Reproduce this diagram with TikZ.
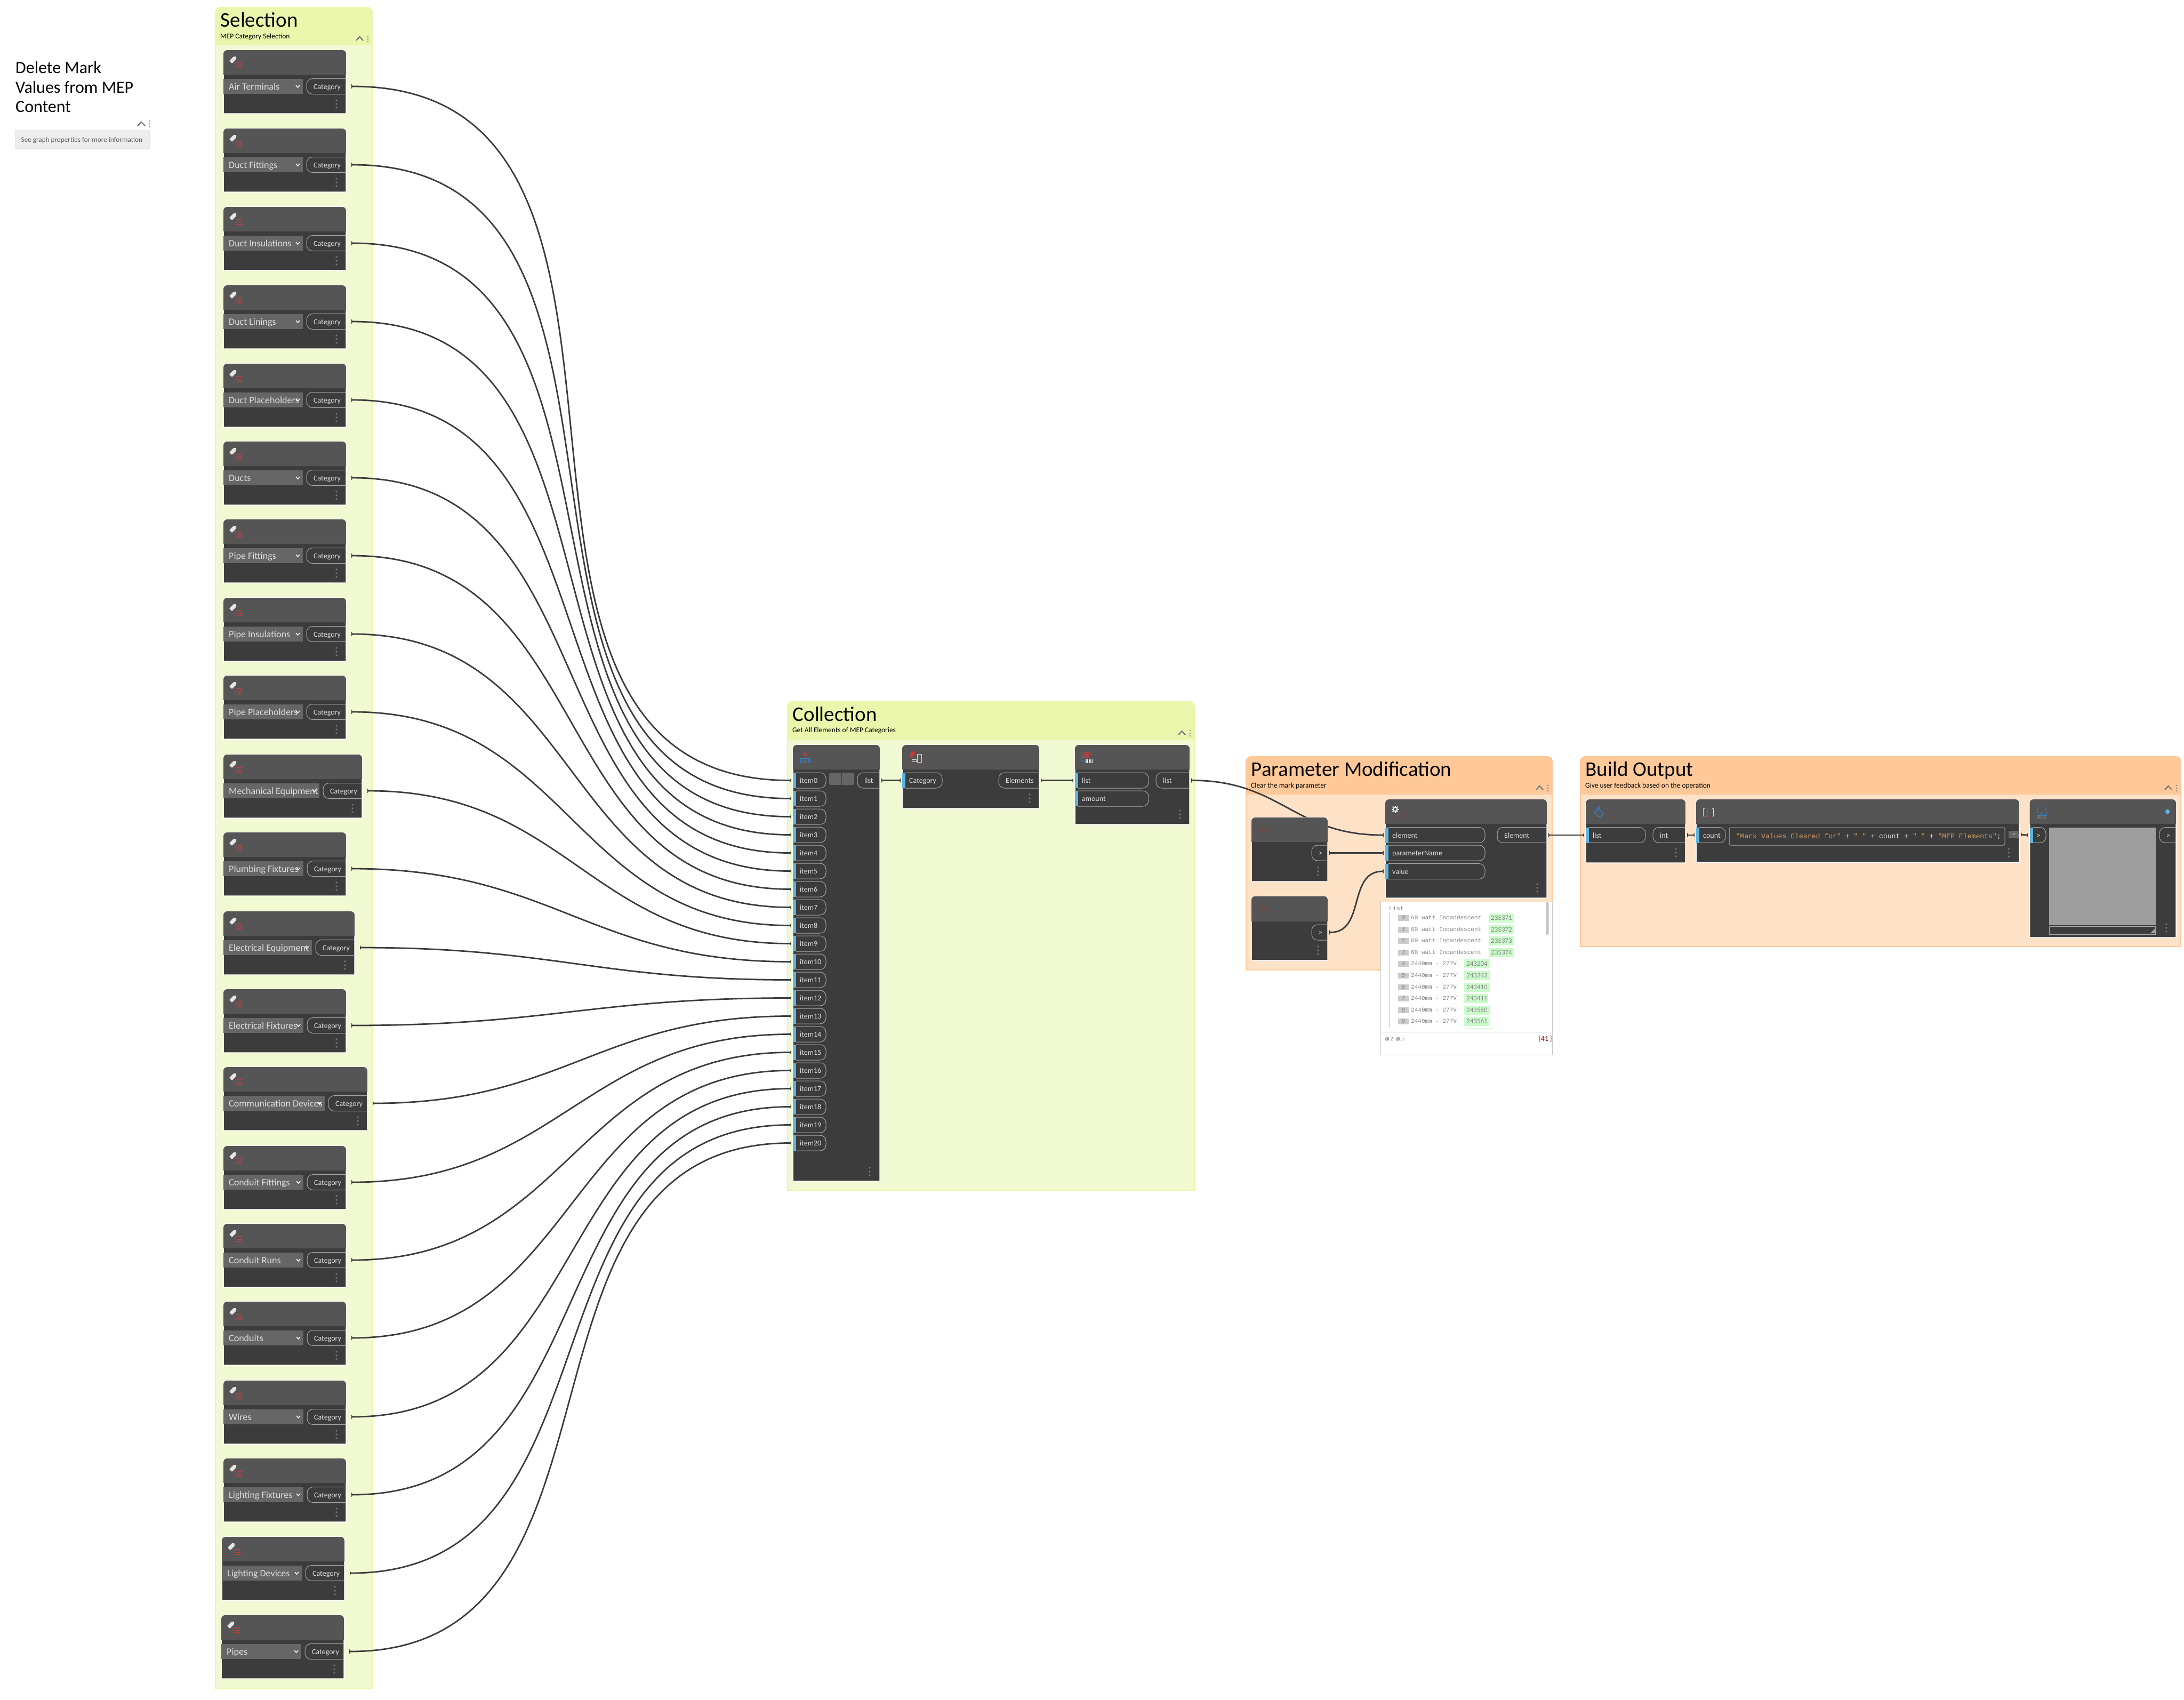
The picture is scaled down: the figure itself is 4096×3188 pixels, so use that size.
\documentclass[tikz,border=0pt]{standalone}
\usepackage{fontspec}
\setmainfont{Carlito}
\newfontfamily\dynmono{Liberation Mono}
\usetikzlibrary{calc,arrows.meta}
\pgfdeclarelayer{bg}\pgfdeclarelayer{wires}\pgfsetlayers{bg,wires,main}
\definecolor{selh}{HTML}{E9F6AB}\definecolor{selb}{HTML}{F1F9D3}
\definecolor{orah}{HTML}{FFC898}\definecolor{orab}{HTML}{FEE2C8}
\definecolor{nbody}{HTML}{3C3C3C}\definecolor{nhead}{HTML}{555555}
\definecolor{pline}{HTML}{A8A8A8}\definecolor{pblue}{HTML}{5CB6E3}
\definecolor{wirec}{HTML}{3C3C3C}\definecolor{ddn}{HTML}{666666}
\definecolor{txtl}{HTML}{DEDEDE}\definecolor{ired}{HTML}{C23B3B}
\definecolor{iblue}{HTML}{3F7FBF}\definecolor{dotc}{HTML}{787878}
\definecolor{strc}{HTML}{CE9B62}\definecolor{grn}{HTML}{CCFBCC}
\definecolor{wgrey}{HTML}{858585}\definecolor{abc}{HTML}{7E4444}
\newcommand\fpx[1]{\fontsize{#1}{#1}\selectfont}
\tikzset{
  wire/.style={draw=wirec,line width=2.8pt,{Triangle[reversed,length=2.5pt,width=8.5pt]}-{Triangle[reversed,length=2.5pt,width=8.5pt]},shorten <=3pt,shorten >=3pt},
  pill/.style={draw=pline,line width=1pt},
  portbox/.style={inner sep=0pt,minimum height=29pt},
  lbl/.style={inner sep=0pt,text=txtl,font=\fpx{14}},
  ddlbl/.style={inner sep=0pt,text=txtl,font=\fpx{18}},
  gtitle/.style={inner sep=0pt,text=black,font=\fpx{39}},
  gsub/.style={inner sep=0pt,text=black,font=\fpx{13.5}},
  wtxt/.style={inner sep=0pt,text=wgrey,font=\dynmono\fpx{11}},
  wnum/.style={inner sep=0pt,text=wgrey,font=\fpx{13}},
}
% node body
\newcommand\dynode[6]{%
  \path[fill=nbody,draw=white,line width=1.5pt] ({#2},{#3+#5}) [rounded corners=7pt] -- ({#2},{#3}) -- ({#2+#4},{#3}) [sharp corners] -- ({#2+#4},{#3+#5}) -- cycle;
  \path[fill=nhead] ({#2},{#3+#6}) [rounded corners=7pt] -- ({#2},{#3}) -- ({#2+#4},{#3}) [sharp corners] -- ({#2+#4},{#3+#6}) -- cycle;
  \node[inner sep=0pt,minimum width=#4pt,minimum height=#5pt,anchor=north west] (#1) at ({#2},{#3}) {};
}
\newcommand\dydots[2]{\foreach \dk in {0,7,14}{\fill[dotc] ({#1},{#2+\dk}) circle[radius=1.9pt];}}
\newcommand\inport[5]{%
  \fill[pblue] ({#2},{#4-14.5}) rectangle ({#2+6},{#4+14.5});
  \draw[pill,rounded corners=11pt] ({#2+6},{#4-14.5}) -- ({#3},{#4-14.5}) -- ({#3},{#4+14.5}) -- ({#2+6},{#4+14.5});
  \node[portbox,minimum width={(#3-#2)*1pt}] (#1) at ({(#2+#3)/2},{#4}) {};
  \node[lbl,anchor=base west] (#1-l) at ({#2+13},{#4+5}) {#5};
}
\newcommand\outport[5]{%
  \draw[pill,rounded corners=11pt] ({#3},{#4-14.5}) -- ({#2},{#4-14.5}) -- ({#2},{#4+14.5}) -- ({#3},{#4+14.5});
  \node[portbox,minimum width={(#3-#2)*1pt}] (#1) at ({(#2+#3)/2},{#4}) {};
  \node[lbl,anchor=base west] (#1-l) at ({#2+13},{#4+5}) {#5};
}
\newcommand\tagicon[2]{%
  \fill[white!90!black,rounded corners=1pt] ({#1+11},{#2+20}) -- ({#1+19},{#2+12}) -- ({#1+24},{#2+12}) -- ({#1+24},{#2+17}) -- ({#1+16},{#2+25}) -- cycle;
  \foreach \rk in {24,28.5,33}{%
    \fill[ired] ({#1+25},{#2+\rk-1}) rectangle ({#1+35},{#2+\rk+1});
    \fill[ired] ({#1+21},{#2+\rk-1}) rectangle ({#1+23},{#2+\rk+1});}
}
\newcommand\chevgrp[3]{%
  \draw[dotc,line width=2.2pt] ({#1-31},{#2-8}) -- ({#1-24.5},{#2-15}) -- ({#1-18},{#2-8});
  \foreach \dk in {-16,-11,-6}{\draw[dotc,line width=.5pt] ({#1-9},{#2+\dk}) circle[radius=1pt];}
}
\newcommand\dygroup[9]{% name x1 y1 x2 yh y2 hdr body title
  \begin{pgfonlayer}{bg}
  \path[fill=#8,draw=#7,line width=2pt] ({#2+1},{#5}) rectangle ({#4-1},{#6-1});
  \path[fill=#7] ({#2},{#5}) [rounded corners=10pt] -- ({#2},{#3}) -- ({#4},{#3}) [sharp corners] -- ({#4},{#5}) -- cycle;
  \end{pgfonlayer}
  \node[gtitle,anchor=base west] (#1) at ({#2+10.5},{#3+37}) {#9};
  \chevgrp{#4}{#5}{}
}
\newcommand\conn[2]{%
  \draw[wire] let \p1=(#1.east),\p2=(#2.west),\n1={veclen(\x2-\x1,\y2-\y1)*0.45} in (#1.east) .. controls ($(\p1)+(\n1,0)$) and ($(\p2)-(\n1,0)$) .. (#2.west);
}
\newcommand\wrow[7]{% yc idx text x1 x2 num name
  \fill[black!20] (2622,{#1-5.5}) rectangle (2642,{#1+5.5});
  \node[wtxt,font=\dynmono\itshape\fpx{11},anchor=center] (#7-i) at (2632,{#1}) {#2};
  \node[wtxt,anchor=base west] (#7-t) at (2646,{#1+3.5}) {#3};
  \fill[grn] ({#4},{#1-8.5}) rectangle ({#5},{#1+8.5});
  \node[wnum,anchor=base west] (#7-n) at ({#4+4},{#1+4}) {#6};
}
\begin{document}
\begin{tikzpicture}[x=1pt,y=-1pt]
\useasboundingbox (0,0) rectangle (4096,3188);
\begin{pgfonlayer}{bg}\fill[white] (0,0) rectangle (4096,3188);\end{pgfonlayer}

% ---- note
\node[inner sep=0pt,anchor=base west,font=\fpx{32},text=black] (n1) at (29,137) {Delete Mark};
\node[inner sep=0pt,anchor=base west,font=\fpx{32},text=black] (n2) at (29,174) {Values from MEP};
\node[inner sep=0pt,anchor=base west,font=\fpx{32},text=black] (n3) at (29,210) {Content};
\draw[dotc,line width=2.2pt] (258,236) -- (265,229) -- (272,236);
\foreach \dk in {-5,0,5}{\draw[dotc,line width=.5pt] (280.5,{232+\dk}) circle[radius=1pt];}
\fill[black!10,rounded corners=2pt] (28,243) rectangle (281.5,280);
\node[fill=black!7,inner sep=0pt,minimum width=251pt,minimum height=34pt,anchor=north west] (nbox) at (29,243) {};
\node[inner sep=0pt,anchor=base west,font=\fpx{13.2},text=black!65] (nt) at (39.5,266) {See graph properties for more information};

% ---- groups
\dygroup{gsel}{403}{13}{699}{84}{3168}{selh}{selb}{Selection}
\node[gsub,anchor=base west] (gsels) at (413,72) {MEP Category Selection};
\dygroup{gcol}{1476}{1315}{2241}{1386}{2233}{selh}{selb}{Collection}
\node[gsub,anchor=base west] (gcols) at (1486,1373) {Get All Elements of MEP Categories};
\dygroup{gpar}{2336}{1418}{2912}{1489}{1820}{orah}{orab}{Parameter Modification}
\node[gsub,anchor=base west] (gpars) at (2346,1477) {Clear the mark parameter};
\dygroup{gout}{2963}{1418}{4091}{1489}{1776}{orah}{orab}{Build Output}
\node[gsub,anchor=base west] (gouts) at (2973,1477) {Give user feedback based on the operation};

% ---- selection nodes
\foreach \i/\lab/\nx/\tp/\xr/\ddx in {
 0/Air Terminals/419/94/649/568,
 1/Duct Fittings/419/241/649/568,
 2/Duct Insulations/419/388/649/568,
 3/Duct Linings/419/535/649/568,
 4/Duct Placeholders/419/682/649/568,
 5/Ducts/419/828/649/568,
 6/Pipe Fittings/419/974/649/568,
 7/Pipe Insulations/419/1121/649/568,
 8/Pipe Placeholders/419/1267/649/568,
 9/Mechanical Equipment/419/1415/679/599,
 10/Plumbing Fixtures/419/1561/649/569,
 11/Electrical Equipment/419/1709/665/585,
 12/Electrical Fixtures/419/1855/649/569,
 13/Communication Devices/419/2001/689/609,
 14/Conduit Fittings/419/2149/649/569,
 15/Conduit Runs/419/2295/649/569,
 16/Conduits/419/2441/649/569,
 17/Wires/419/2589/649/569,
 18/Lighting Fixtures/419/2735/649/569,
 19/Lighting Devices/416/2882/646/566,
 20/Pipes/415/3029/645/565}{
  \pgfmathsetmacro\nw{\xr-\nx}
  \dynode{s\i}{\nx}{\tp}{\nw}{119}{46}
  \tagicon{\nx}{\tp}
  \pgfmathsetmacro\yc{\tp+68}
  \fill[ddn] (\nx,{\yc-14}) rectangle (\ddx,{\yc+14});
  \node[ddlbl,anchor=base west] (dd\i) at ({\nx+10},{\yc+6}) {\lab};
  \draw[white,line width=1.4pt] ({\ddx-13},{\yc-2}) -- ({\ddx-9.5},{\yc+2}) -- ({\ddx-6},{\yc-2});
  \outport{c\i}{\ddx+7}{\xr}{\yc}{Category}
  \dydots{\xr-18}{\tp+94}
}

% ---- list create
\dynode{lc}{1487}{1397}{163}{818}{46}
\fill[ired] (1508.5,1410) rectangle (1510.5,1420);
\fill[ired] (1505,1414) rectangle (1514,1416);
\draw[iblue,line width=1pt] (1501,1422) rectangle (1519,1430);
\foreach \gx in {1504,1507,1510,1513,1516}{\draw[iblue,line width=.8pt] (\gx,1422) -- (\gx,1430);}
\foreach \i in {0,...,20}{
  \pgfmathsetmacro\yc{1463.5+34*\i}
  \inport{in\i}{1487}{1549}{\yc}{item\i}
}
\fill[nhead!90!white,rounded corners=3pt] (1555,1449) rectangle (1602,1472);
\draw[nbody,line width=1pt] (1578.5,1449) -- (1578.5,1472);
\outport{lcout}{1608}{1650}{1463.5}{list}
\dydots{1631}{2190}

% ---- get all elements
\dynode{ga}{1692}{1397}{257}{119}{46}
\fill[ired,rounded corners=1pt] (1706,1416) -- (1711,1408) -- (1717,1411) -- (1712,1420) -- (1706,1420) -- cycle;
\draw[white!85!black,line width=1pt] (1720,1414) rectangle (1728,1429);
\draw[white!85!black,line width=1pt] (1720,1421) -- (1728,1421);
\draw[white!85!black,line width=1pt] (1710,1424) rectangle (1718,1428);
\draw[ired,line width=.8pt,densely dotted] (1707,1430) -- (1729,1430);
\inport{gacat}{1692}{1767}{1463.5}{Category}
\outport{gaout}{1873}{1949}{1463.5}{Elements}
\dydots{1931}{1490}

% ---- first items
\dynode{fi}{2016}{1397}{215}{149}{46}
\foreach \gy in {1410,1414,1418}{\foreach \gx in {2027,2031,2035,2039}{\fill[ired] (\gx,\gy) rectangle +(3,3);}}
\node[inner sep=0pt,text=ired,font=\fpx{11},anchor=base west] (fin) at (2043,1416) {n};
\draw[iblue,line width=1.2pt] (2027,1422) .. controls (2027,1426) and (2030,1428) .. (2035,1428);
\fill[white!90!black] (2035.5,1424) rectangle (2049,1431);
\foreach \gx in {2038,2041,2044,2047}{\draw[nbody,line width=.6pt] (\gx,1424) -- (\gx,1431);}
\inport{filist}{2016}{2154}{1463.5}{list}
\inport{fiam}{2016}{2154}{1497.5}{amount}
\outport{fiout}{2168}{2231}{1463.5}{list}
\dydots{2213}{1520}

% ---- string nodes
\dynode{abc1}{2347}{1533}{143}{120}{46}
\node[inner sep=0pt,text=abc,font=\bfseries\fpx{13},anchor=base west] (abc1t) at (2359.5,1560) {ABC};
\outport{abc1o}{2460}{2490}{1599.5}{>}
\dydots{2472}{1627}
\dynode{abc2}{2347}{1680.5}{143}{120.5}{47.5}
\node[inner sep=0pt,text=abc,font=\bfseries\fpx{13},anchor=base west] (abc2t) at (2359.5,1708) {ABC};
\outport{abc2o}{2460}{2490}{1748.5}{>}
\dydots{2472}{1775}

% ---- set parameter
\dynode{sp}{2598}{1499}{303}{185}{46}
\foreach \ga in {0,45,...,315}{\draw[white!90!black,line width=2pt] ({2616.5+4*cos(\ga)},{1517.5+4*sin(\ga)}) -- ({2616.5+7*cos(\ga)},{1517.5+7*sin(\ga)});}
\draw[white!90!black,line width=2.2pt] (2616.5,1517.5) circle[radius=4pt];
\draw[abc,line width=1.2pt] (2624,1518) .. controls (2628,1516) and (2631,1518) .. (2632,1524);
\node[inner sep=0pt,text=abc,font=\fpx{10},anchor=base west] (sp123) at (2617,1533) {12.3};
\inport{spel}{2598}{2785}{1566}{element}
\inport{sppn}{2598}{2785}{1599.5}{parameterName}
\inport{spva}{2598}{2785}{1634}{value}
\outport{spout}{2808}{2901}{1566}{Element}
\dydots{2883}{1658}

% ---- watch list
\node[draw=black!22,line width=1pt,fill=white,inner sep=0pt,minimum width=322pt,minimum height=287pt,anchor=north west] (wl) at (2589,1691) {};
\node[wtxt,anchor=base west,font=\dynmono\fpx{11.5}] (wlt) at (2605,1707) {List};
\draw[black!25,line width=1pt] (2605.5,1711) -- (2605.5,1928);
\wrow{1721}{0}{60 watt Incandescent}{2792}{2839}{235371}{r0}
\wrow{1743}{1}{60 watt Incandescent}{2792}{2839}{235372}{r1}
\wrow{1764}{2}{60 watt Incandescent}{2792}{2840}{235373}{r2}
\wrow{1786}{3}{60 watt Incandescent}{2792}{2839}{235374}{r3}
\wrow{1807}{4}{2440mm - 277V}{2746}{2795}{243204}{r4}
\wrow{1829}{5}{2440mm - 277V}{2746}{2795}{243343}{r5}
\wrow{1851}{6}{2440mm - 277V}{2746}{2794}{243410}{r6}
\wrow{1872}{7}{2440mm - 277V}{2746}{2791}{243411}{r7}
\wrow{1894}{8}{2440mm - 277V}{2746}{2795}{243560}{r8}
\wrow{1915}{9}{2440mm - 277V}{2746}{2793}{243561}{r9}
\fill[grn] (2751,1928) rectangle (2798,1929);
\fill[black!22,rounded corners=2pt] (2899,1692) rectangle (2904.5,1753);
\draw[black!22,line width=1pt] (2589,1935) -- (2911,1935);
\node[inner sep=0pt,anchor=base west,font=\dynmono\fpx{8.5},text=black!75] (wlL) at (2598,1951) {@L2 @L1};
\node[inner sep=0pt,anchor=base east,font=\fpx{14},text=black!60] (wlc) at (2911,1952) {\{{\color{red!60!black}41}\,\}};

% ---- count
\dynode{cnt}{2974}{1499}{187}{119}{46}
\draw[iblue,line width=1.2pt,line join=round] (2993,1513) -- (2997,1521) -- (2999,1512) -- (3001,1521) -- (3005,1523) -- (3005,1529) -- (3001,1532) -- (2997,1531) -- (2990,1524) -- (2991,1521) -- (2995,1523);
\inport{cntin}{2974}{3086}{1566}{list}
\outport{cntout}{3100}{3161}{1566}{int}
\dydots{3143}{1592}

% ---- code block
\dynode{cb}{3181}{1499}{606}{118}{46}
\draw[white!85!black,line width=1pt] (3197,1516) -- (3194.5,1516) -- (3194.5,1530) -- (3197,1530);
\draw[white!85!black,line width=1pt] (3211,1516) -- (3213.5,1516) -- (3213.5,1530) -- (3211,1530);
\draw[ired,line width=1.2pt] (3202.5,1515) -- (3202.5,1531);
\draw[ired,line width=.8pt] (3200.5,1515) -- (3204.5,1515) (3200.5,1531) -- (3204.5,1531);
\inport{cbin}{3181}{3236}{1566}{count}
\draw[pill,rounded corners=3pt] (3243,1552) rectangle (3760,1585);
\node[inner sep=0pt,anchor=base west,font=\dynmono\fpx{13.15},text=txtl] (cbt) at (3255.5,1572) {{\color{strc}"Mark Values Cleared for"} + {\color{strc}" "} + count + {\color{strc}" "} + {\color{strc}"MEP Elements"};};
\node[fill=ddn,inner sep=0pt,minimum width=20pt,minimum height=14pt,anchor=north west,text=txtl,font=\fpx{10}] (cbo) at (3767,1558) {>};
\dydots{3767.5}{1592}

% ---- watch
\dynode{wa}{3806.5}{1499}{274.5}{259}{46}
\draw[iblue,line width=1pt] (3820,1524) -- (3823,1512) (3838,1524) -- (3835,1512);
\draw[iblue,line width=1pt] (3820,1524) rectangle (3838,1529);
\draw[iblue,line width=1pt] (3826,1529) -- (3829,1524) -- (3832,1529);
\node[inner sep=0pt,text=black!40,font=\fpx{8},anchor=base] (waab) at (3829,1535) {ab12};
\fill[pblue] (4065,1522) ellipse[x radius=4pt,y radius=4.5pt];
\inport{wain}{3806.5}{3837}{1566}{>}
\fill[black!38] (3843,1552) rectangle (4042.5,1735);
\draw[pline,line width=1pt] (3843,1737) -- (4042.5,1737) -- (4042.5,1752) -- (3843,1752) -- cycle;
\fill[pline] (4033,1750) -- (4041,1750) -- (4041,1742) -- cycle;
\outport{waout}{4050}{4081}{1566}{>}
\dydots{4063}{1733}

% ---- wires
\begin{pgfonlayer}{wires}
\foreach \i in {0,...,20}{\conn{c\i}{in\i}}
\conn{lcout}{gacat}
\conn{gaout}{filist}
\conn{fiout}{spel}
\conn{abc1o}{sppn}
\conn{abc2o}{spva}
\conn{spout}{cntin}
\conn{cntout}{cbin}
\conn{cbo}{wain}
\end{pgfonlayer}
\end{tikzpicture}
\end{document}
